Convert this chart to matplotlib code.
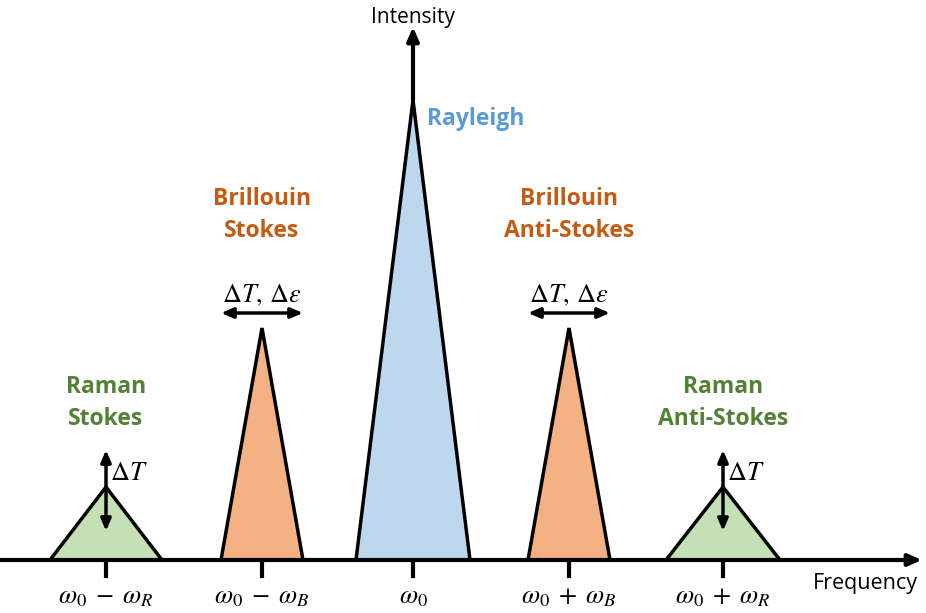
import numpy as np
import matplotlib
matplotlib.use('Agg')
import matplotlib.pyplot as plt
from matplotlib.patches import Polygon

plt.rcParams['font.family'] = ['Open Sans', 'DejaVu Sans']
plt.rcParams['mathtext.fontset'] = 'stix'

# ---- peaks (x centre, half width, height) in drawing units ----
names = ['Raman Stokes', 'Brillouin Stokes', 'Rayleigh', 'Brillouin Anti-Stokes', 'Raman Anti-Stokes']
centers = [106, 262, 413, 569, 723]
half_widths = [56, 41, 57, 41, 57]
heights = [73, 232, 460, 232, 73]
fills = ['#C5E0B4', '#F4B183', '#BDD7EE', '#F4B183', '#C5E0B4']
tick_labels = [r'$\omega_0\;-\;\omega_R$', r'$\omega_0\;-\;\omega_B$', r'$\omega_0$',
               r'$\omega_0\;+\;\omega_B$', r'$\omega_0\;+\;\omega_R$']

green = '#548235'
orange = '#C55A11'
blue = '#5B9BD5'

fig = plt.figure(figsize=(9.26, 6.13), dpi=100)
ax = fig.add_axes([0, 0, 1, 1])
ax.set_xlim(0, 926)
ax.set_ylim(-53, 560)
ax.axis('off')

# triangles
for c, hw, h, fc in zip(centers, half_widths, heights, fills):
    tri = Polygon([[c - hw, 0], [c, h], [c + hw, 0]], closed=True,
                  facecolor=fc, edgecolor='black', linewidth=2.5, zorder=2)
    ax.add_patch(tri)

# axes arrows (intensity axis starts at the Rayleigh peak)
ax.annotate('', xy=(922, 0), xytext=(0, 0),
            arrowprops=dict(arrowstyle='-|>,head_length=0.8,head_width=0.35', color='black', lw=3,
                            shrinkA=0, shrinkB=0), zorder=3)
ax.annotate('', xy=(413, 533), xytext=(413, heights[2]),
            arrowprops=dict(arrowstyle='-|>,head_length=0.8,head_width=0.35', color='black', lw=3,
                            shrinkA=0, shrinkB=0), zorder=3)

# ticks and tick labels
for c, lab in zip(centers, tick_labels):
    ax.plot([c, c], [-1, -16], color='black', lw=3, zorder=3)
    ax.text(c, -37, lab, ha='center', va='center', fontsize=19)

ax.text(413, 543, 'Intensity', ha='center', va='center', fontsize=15)
ax.text(865, -23, 'Frequency', ha='center', va='center', fontsize=15.5)

# vertical double arrows on Raman peaks
for i in [0, 4]:
    c, h = centers[i], heights[i]
    ax.annotate('', xy=(c, h + 37), xytext=(c, h),
                arrowprops=dict(arrowstyle='-|>,head_length=0.7,head_width=0.3', color='black', lw=2.5,
                                shrinkA=0, shrinkB=0), zorder=4)
    ax.annotate('', xy=(c, h - 44), xytext=(c, h),
                arrowprops=dict(arrowstyle='-|>,head_length=0.7,head_width=0.3', color='black', lw=2.5,
                                shrinkA=0, shrinkB=0), zorder=4)
    ax.text(c + 4, h + 14, r'$\Delta T$', ha='left', va='center', fontsize=19)

# horizontal double arrows on Brillouin peaks
for i in [1, 3]:
    c, h = centers[i], heights[i]
    ax.annotate('', xy=(c - 41, h + 15), xytext=(c + 41, h + 15),
                arrowprops=dict(arrowstyle='<|-|>,head_length=0.7,head_width=0.3', color='black', lw=2.5,
                                shrinkA=0, shrinkB=0), zorder=4)
    ax.text(c, h + 32, r'$\Delta T,\,\Delta \varepsilon$', ha='center', va='center', fontsize=19)

# peak names
label_kw = dict(ha='center', va='center', fontsize=16.5, fontweight='bold', linespacing=1.4)
ax.text(centers[0], 157, 'Raman\nStokes', color=green, **label_kw)
ax.text(centers[4], 157, 'Raman\nAnti-Stokes', color=green, **label_kw)
ax.text(centers[1], 345, 'Brillouin\nStokes', color=orange, **label_kw)
ax.text(centers[3], 345, 'Brillouin\nAnti-Stokes', color=orange, **label_kw)
ax.text(476, 441, 'Rayleigh', color=blue, **label_kw)

fig.savefig('out.png', dpi=100)
